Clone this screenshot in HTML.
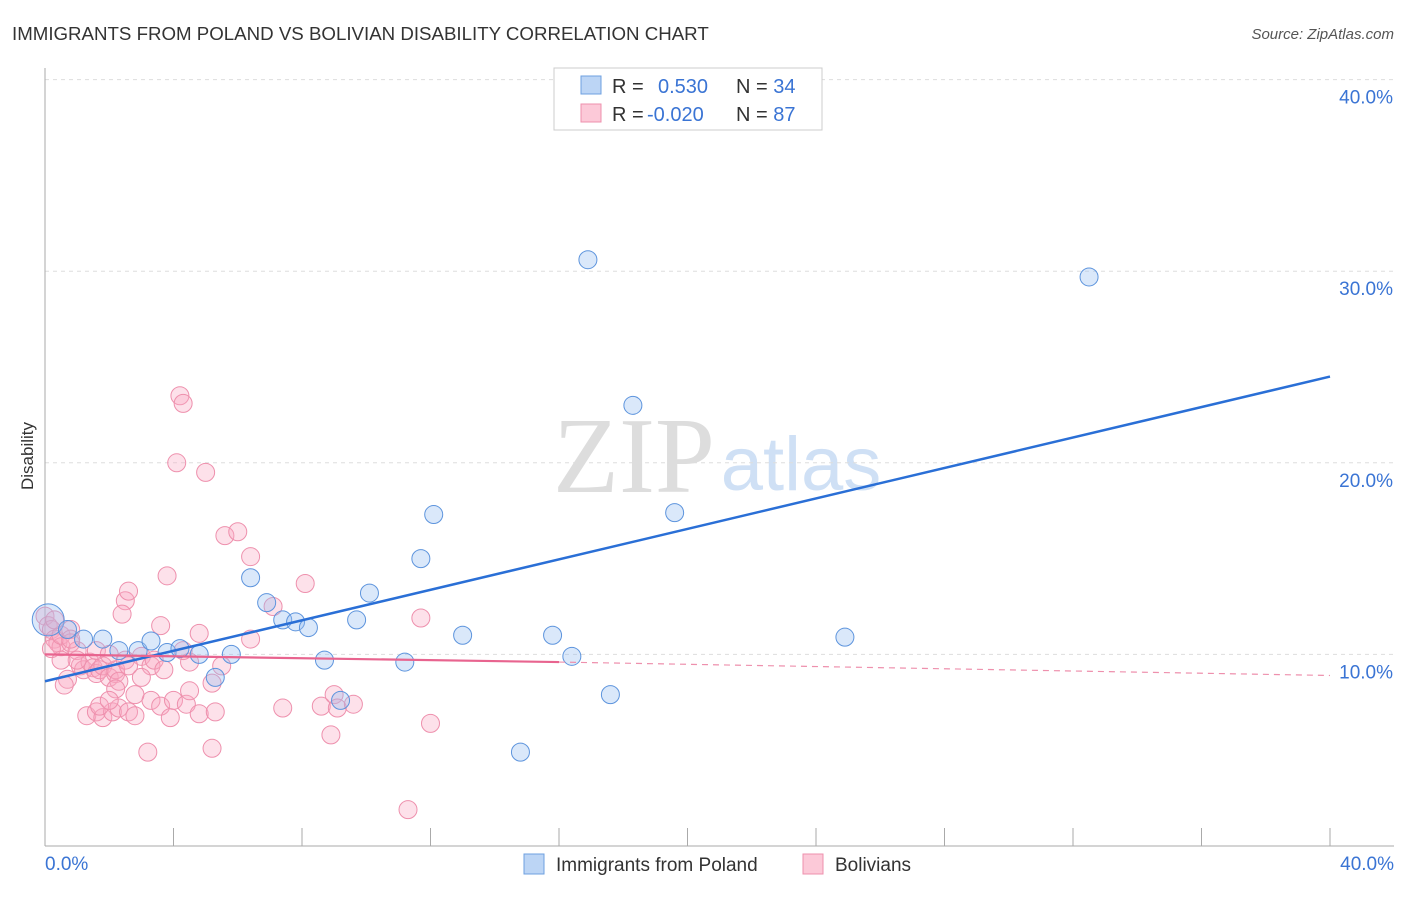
<!DOCTYPE html>
<html><head><meta charset="utf-8"><style>
body{margin:0;background:#fff;font-family:"Liberation Sans",sans-serif}
</style></head><body>
<svg id="c" width="1406" height="892" xmlns="http://www.w3.org/2000/svg" style="font-family:'Liberation Sans',sans-serif">
<text x="12" y="40" font-size="18.7" fill="#333">IMMIGRANTS FROM POLAND VS BOLIVIAN DISABILITY CORRELATION CHART</text>
<text x="1394" y="39" font-size="15" fill="#555" text-anchor="end" font-style="italic">Source: ZipAtlas.com</text>
<text x="33" y="456" font-size="17" fill="#333" text-anchor="middle" transform="rotate(-90 33 456)">Disability</text>
<g><text x="634" y="492" font-size="108" fill="#ddd" text-anchor="middle" font-family="Liberation Serif">ZIP</text><text x="801" y="490" font-size="76" fill="#cfe0f5" text-anchor="middle">atlas</text></g>
<g id="grid"></g><g id="axes"></g><g id="pink"></g><g id="blue"></g><g id="lines"></g>
<g>
<rect x="554" y="68" width="268" height="62" fill="#fff" stroke="#ccc"/>
<rect x="581" y="76" width="20" height="18" fill="#bcd5f5" stroke="#6ea0e0"/>
<rect x="581" y="104" width="20" height="18" fill="#fcc9d8" stroke="#ee90ad"/>
<text x="612" y="93" font-size="20" fill="#333">R = <tspan fill="#3a74d4" x="658">0.530</tspan><tspan x="736" fill="#333">N = </tspan><tspan fill="#3a74d4">34</tspan></text>
<text x="612" y="121" font-size="20" fill="#333">R = <tspan fill="#3a74d4" x="647">-0.020</tspan><tspan x="736" fill="#333">N = </tspan><tspan fill="#3a74d4">87</tspan></text>
</g>
<g>
<rect x="524" y="854" width="20" height="20" fill="#bcd5f5" stroke="#6ea0e0"/>
<text x="556" y="871" font-size="19" fill="#333">Immigrants from Poland</text>
<rect x="803" y="854" width="20" height="20" fill="#fcc9d8" stroke="#ee90ad"/>
<text x="835" y="871" font-size="19" fill="#333">Bolivians</text>
</g>
</svg>
<script>
const yTicks=[10,20,30,40];
const xTickLabels=["0.0%","40.0%"];
const bluePts=[[0.1,11.8],[0.7,11.3],[1.2,10.8],[1.8,10.8],[2.3,10.2],[2.9,10.2],[3.3,10.7],[3.8,10.1],[4.2,10.3],[4.8,10.0],[5.3,8.8],[5.8,10.0],[6.4,14.0],[6.9,12.7],[7.4,11.8],[7.8,11.7],[8.2,11.4],[8.7,9.7],[9.2,7.6],[9.7,11.8],[10.1,13.2],[11.2,9.6],[11.7,15.0],[12.1,17.3],[13.0,11.0],[14.8,4.9],[15.8,11.0],[16.4,9.9],[16.9,30.6],[17.6,7.9],[18.3,23.0],[19.6,17.4],[24.9,10.9],[32.5,29.7]];
const pinkPts=[[0,12.0],[0.1,11.5],[0.2,11.3],[0.3,10.8],[0.4,10.6],[0.5,10.4],[0.2,10.3],[0.5,11.0],[0.7,8.7],[0.8,11.3],[0.8,10.6],[1.0,10.2],[1.1,9.4],[1.2,9.2],[1.4,9.6],[1.5,9.3],[1.6,9.0],[1.7,9.2],[1.8,9.4],[2.0,8.8],[2.2,9.0],[2.2,9.2],[2.3,8.6],[1.3,6.8],[1.6,7.0],[1.8,6.7],[2.1,7.0],[2.3,7.2],[2.6,7.0],[2.8,6.8],[1.7,7.3],[2.5,12.8],[2.4,12.1],[2.6,13.3],[1.6,10.2],[2.0,10.0],[2.5,9.7],[3.0,9.9],[3.3,9.4],[3.4,9.7],[3.6,11.5],[3.7,9.2],[3.8,14.1],[3.3,7.6],[3.6,7.3],[3.9,6.7],[4.0,7.6],[2.8,7.9],[3.2,4.9],[4.2,23.5],[4.3,23.1],[4.1,20.0],[5.0,19.5],[4.8,11.1],[4.5,9.6],[4.3,10.2],[4.4,7.4],[4.5,8.1],[4.8,6.9],[5.2,8.5],[5.3,7.0],[5.5,9.4],[5.2,5.1],[5.6,16.2],[6.0,16.4],[6.4,15.1],[6.4,10.8],[7.1,12.5],[7.4,7.2],[8.1,13.7],[8.6,7.3],[8.9,5.8],[9.0,7.9],[9.1,7.2],[9.6,7.4],[11.7,11.9],[12.0,6.4],[11.3,1.9],[0.8,10.8],[1.0,9.7],[0.3,11.8],[0.6,8.4],[2.2,8.2],[3.0,8.8],[2.0,7.6],[2.6,9.4],[0.5,9.7]];
const blueLine=[[0,8.6],[40,24.5]];
const pinkLine=[[0,10.0],[16,9.6],[40,8.9]];
const X=v=>45+v/40*1285, Y=v=>846-v/10*191.6;
const ns="http://www.w3.org/2000/svg";
function mk(t,a,p){const e=document.createElementNS(ns,t);for(const k in a)e.setAttribute(k,a[k]);p.appendChild(e);return e;}
const g=document.getElementById('grid'),ax=document.getElementById('axes');
yTicks.forEach(t=>{const l=mk('line',{x1:45,x2:1394,y1:Y(t),y2:Y(t),stroke:'#ddd','stroke-dasharray':'4 4'},g);


const tx=mk('text',{x:1393,y:Y(t)+24,'font-size':19,fill:'#3a74d4','text-anchor':'end'},ax);tx.textContent=t.toFixed(1)+'%';

});
mk('line',{x1:45,x2:45,y1:68,y2:846,stroke:'#aaa'},ax);
mk('line',{x1:45,x2:1394,y1:846,y2:846,stroke:'#aaa'},ax);
for(let i=0;i<=10;i++){const l=mk('line',{x1:X(i*4),x2:X(i*4),y1:828,y2:846,stroke:'#aaa'},ax);

}
[[45,'start'],[1394,'end']].forEach((p,i)=>{const t=mk('text',{x:p[0],y:870,'font-size':19,fill:'#3a74d4','text-anchor':p[1]},ax);t.textContent=xTickLabels[i];

});
const pg=document.getElementById('pink'),bg=document.getElementById('blue');
pinkPts.forEach(p=>{const c=mk('circle',{cx:X(p[0]),cy:Y(p[1]),r:9,fill:'rgba(248,170,195,0.35)',stroke:'#ee90ad','stroke-width':1},pg);

});
bluePts.forEach((p,i)=>{const c=mk('circle',{cx:X(p[0]),cy:Y(p[1]),r:i==0?16:9,fill:'rgba(150,190,240,0.35)',stroke:'#5d94dd','stroke-width':1},bg);

});
const lg=document.getElementById('lines');
const bl=mk('line',{x1:X(blueLine[0][0]),y1:Y(blueLine[0][1]),x2:X(blueLine[1][0]),y2:Y(blueLine[1][1]),stroke:'#2a6fd6','stroke-width':2.5},lg);


const pl=mk('line',{x1:X(pinkLine[0][0]),y1:Y(pinkLine[0][1]),x2:X(pinkLine[1][0]),y2:Y(pinkLine[1][1]),stroke:'#e8648f','stroke-width':2.2},lg);


const pd=mk('line',{x1:X(pinkLine[1][0]),y1:Y(pinkLine[1][1]),x2:X(pinkLine[2][0]),y2:Y(pinkLine[2][1]),stroke:'#ee90ad','stroke-width':1.2,'stroke-dasharray':'6 5'},lg);


</script>
</body></html>
